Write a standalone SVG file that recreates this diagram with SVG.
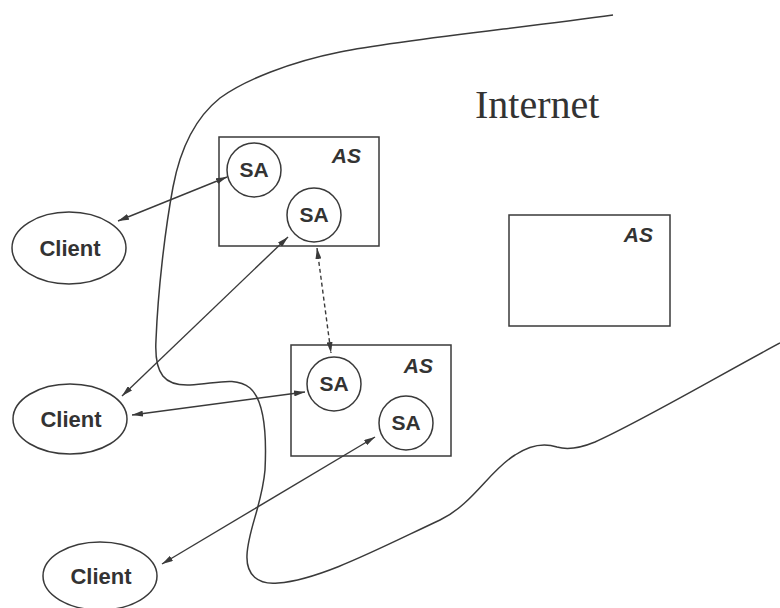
<svg xmlns="http://www.w3.org/2000/svg" width="780" height="608" viewBox="0 0 780 608">
<defs>
<marker id="ah" viewBox="0 0 11 6" refX="11" refY="3" markerWidth="11" markerHeight="6" markerUnits="userSpaceOnUse" orient="auto-start-reverse">
<path d="M0,0 L11,3 L0,6 z" fill="#3a3a3a"/>
</marker>
<style>
.ln{fill:none;stroke:#3a3a3a;stroke-width:1.5}
.nd{fill:none;stroke:#3a3a3a;stroke-width:1.5}
.cn{stroke:#3a3a3a;stroke-width:1.4;fill:none;marker-start:url(#ah);marker-end:url(#ah)}
.dash{stroke-dasharray:4 3}
.lbl{font-family:"Liberation Sans",Arial,sans-serif;font-weight:bold;fill:#333;text-anchor:middle}
.as{font-family:"Liberation Sans",Arial,sans-serif;font-weight:bold;font-style:italic;font-size:21px;fill:#333;text-anchor:end}
</style>
</defs>
<rect width="780" height="608" fill="#fff"/>
<g id="internet">
<path class="ln" d="M613,15 C520,28 400,40 340,52 C290,62 245,80 220,98 C195,118 180,150 173,187 C165,230 158,290 156,340 C154,375 165,386 190,385 C215,384 235,376 250,388 C264,400 267,430 265,470 C262,505 248,530 247,555 C246,575 258,585 278,583 C320,580 380,548 440,520 C472,505 490,470 515,455 C530,445 545,443 557,447 C567,450 578,449 595,442 C640,422 720,375 780,343"/>
<text x="475" y="118" font-family="'Liberation Serif','Times New Roman',serif" font-size="40" fill="#333">Internet</text>
</g>
<g id="as1">
<rect class="nd" x="219" y="137" width="160" height="109"/>
<text class="as" x="361" y="163">AS</text>
</g>
<g id="as2">
<rect class="nd" x="291" y="345" width="160" height="111"/>
<text class="as" x="433" y="373">AS</text>
</g>
<g id="as3">
<rect class="nd" x="509" y="215" width="161" height="111"/>
<text class="as" x="653" y="242">AS</text>
</g>
<g id="sa1">
<circle class="nd" cx="254" cy="170" r="27"/>
<text class="lbl" x="254" y="177" font-size="21">SA</text>
</g>
<g id="sa2">
<circle class="nd" cx="314" cy="215" r="27"/>
<text class="lbl" x="314" y="222" font-size="21">SA</text>
</g>
<g id="sa3">
<circle class="nd" cx="334" cy="384" r="27"/>
<text class="lbl" x="334" y="391" font-size="21">SA</text>
</g>
<g id="sa4">
<circle class="nd" cx="406" cy="423" r="27"/>
<text class="lbl" x="406" y="430" font-size="21">SA</text>
</g>
<g id="client1">
<ellipse class="nd" cx="69" cy="248" rx="57" ry="36"/>
<text class="lbl" x="70" y="256" font-size="22">Client</text>
</g>
<g id="client2">
<ellipse class="nd" cx="70" cy="419" rx="57" ry="35"/>
<text class="lbl" x="71" y="427" font-size="22">Client</text>
</g>
<g id="client3">
<ellipse class="nd" cx="100" cy="576" rx="57" ry="34"/>
<text class="lbl" x="101" y="584" font-size="22">Client</text>
</g>
<g id="connectors">
<line class="cn" x1="118" y1="221" x2="227" y2="177"/>
<line class="cn" x1="122" y1="396" x2="288" y2="237"/>
<line class="cn" x1="132" y1="415" x2="305" y2="392"/>
<line class="cn" x1="162" y1="564" x2="375" y2="437"/>
<line class="cn dash" x1="317" y1="248" x2="331" y2="353"/>
</g>
</svg>
